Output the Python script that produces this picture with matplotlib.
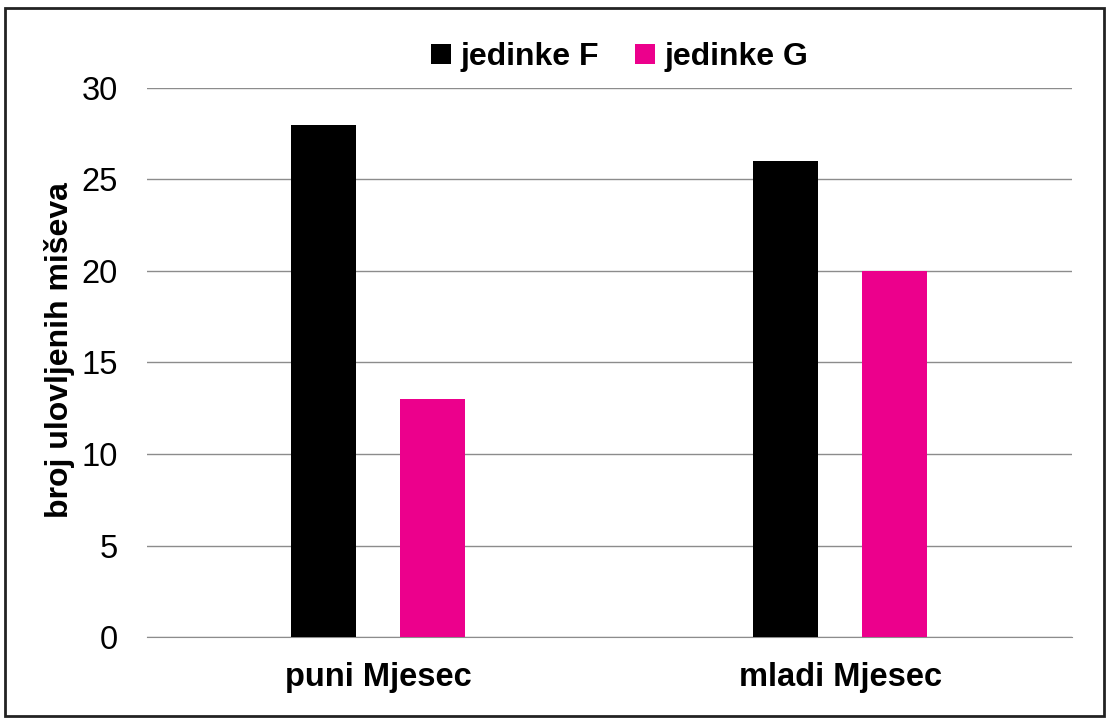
import numpy as np
import matplotlib.pyplot as plt
from matplotlib.patches import Rectangle

plt.rcParams['font.family'] = ['Liberation Sans', 'DejaVu Sans']

categories = ['puni Mjesec', 'mladi Mjesec']
jedinke_f = [28, 26]
jedinke_g = [13, 20]
y_ticks = [0, 5, 10, 15, 20, 25, 30]

fig = plt.figure(figsize=(11.11, 7.24), dpi=100)
ax = fig.add_axes([147/1111, 1 - 637/724, 925/1111, (637-88)/724])

x = np.arange(len(categories))
w = 0.14
ax.bar(x - 0.119, jedinke_f, w, color='black', label='jedinke F', zorder=3)
ax.bar(x + 0.117, jedinke_g, w, color='#EC008C', label='jedinke G', zorder=3)

ax.set_xlim(-0.5, 1.5)
ax.set_ylim(0, 30)
ax.set_yticks(y_ticks)
ax.set_yticklabels([str(t) for t in y_ticks], fontsize=23.5)
ax.set_xticks(x)
ax.set_xticklabels(categories, fontsize=23.5, fontweight='bold')
ax.tick_params(axis='both', length=0)
ax.tick_params(axis='y', pad=21)
ax.tick_params(axis='x', pad=18)
ax.grid(axis='y', color='#8c8c8c', linewidth=1, zorder=0)
for s in ['top', 'right', 'left']:
    ax.spines[s].set_visible(False)
ax.spines['bottom'].set_color('#8c8c8c')
ax.set_ylabel('broj ulovljenih miševa', fontsize=23, fontweight='bold')
ax.yaxis.set_label_coords(-0.078, 0.523)

leg = ax.legend(loc='lower center', bbox_to_anchor=(0.511, 1.0), ncol=2, frameon=False,
                prop={'size': 23, 'weight': 'bold'}, handlelength=0.6, handleheight=0.6,
                handletextpad=0.3, columnspacing=1.15, borderaxespad=0.1)

fig.patches.append(Rectangle((5/1111, 8/724), 1099/1111, 708/724, transform=fig.transFigure,
                             fill=False, edgecolor='#222222', linewidth=2))

fig.savefig('out.png', dpi=100)
